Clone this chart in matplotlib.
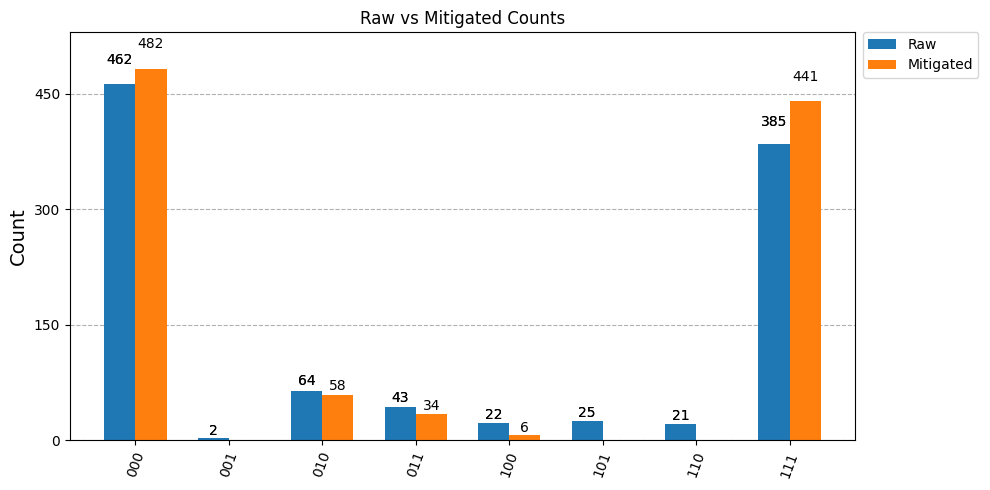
import matplotlib
matplotlib.use("Agg")
import matplotlib.pyplot as plt
import numpy as np

labels = ["000", "001", "010", "011", "100", "101", "110", "111"]
raw = [462, 2, 64, 43, 22, 25, 21, 385]
mitigated = [482, 0, 58, 34, 6, 0, 0, 441]
legend = ["Raw", "Mitigated"]
colors = ["#1f77b4", "#ff7f0e"]

fig = plt.figure(figsize=(9.9, 4.9), dpi=100)
ax = fig.add_axes([0.0707, 0.102, 0.7929, 0.8327])

width = 1 / 3
ind = np.arange(len(labels))
for i, (vals, name) in enumerate(zip([raw, mitigated], legend)):
    rects = ax.bar(ind + i * width, vals, width, color=colors[i], label=name, zorder=2)
    # raw labels got drawn twice in the original, looks a bit darker
    reps = 2 if i == 0 else 1
    for _ in range(reps):
        for r in rects:
            h = r.get_height()
            if h >= 1e-3:
                ax.text(r.get_x() + r.get_width() / 2, 1.05 * h, str(int(h)),
                        ha="center", va="bottom", fontsize=10, zorder=3)

ax.set_xticks(ind + width / 2)
ax.set_xticklabels(labels, rotation=70, fontsize=10)
ax.set_xlim(width / 2 - 0.7, len(labels) - 1 + width / 2 + 0.7)
ax.set_ylim(0, 1.1 * max(raw + mitigated))
ax.set_yticks([0, 150, 300, 450])
ax.tick_params(axis="y", labelsize=10)
ax.yaxis.grid(True, linestyle="--", color="#b0b0b0", zorder=0)
ax.set_axisbelow(True)
ax.set_ylabel("Count", fontsize=14)
ax.set_title("Raw vs Mitigated Counts", fontsize=12)
ax.legend(loc="upper left", bbox_to_anchor=(1.01, 1.0), borderaxespad=0, fontsize=10)

fig.savefig("out.png", dpi=100)
